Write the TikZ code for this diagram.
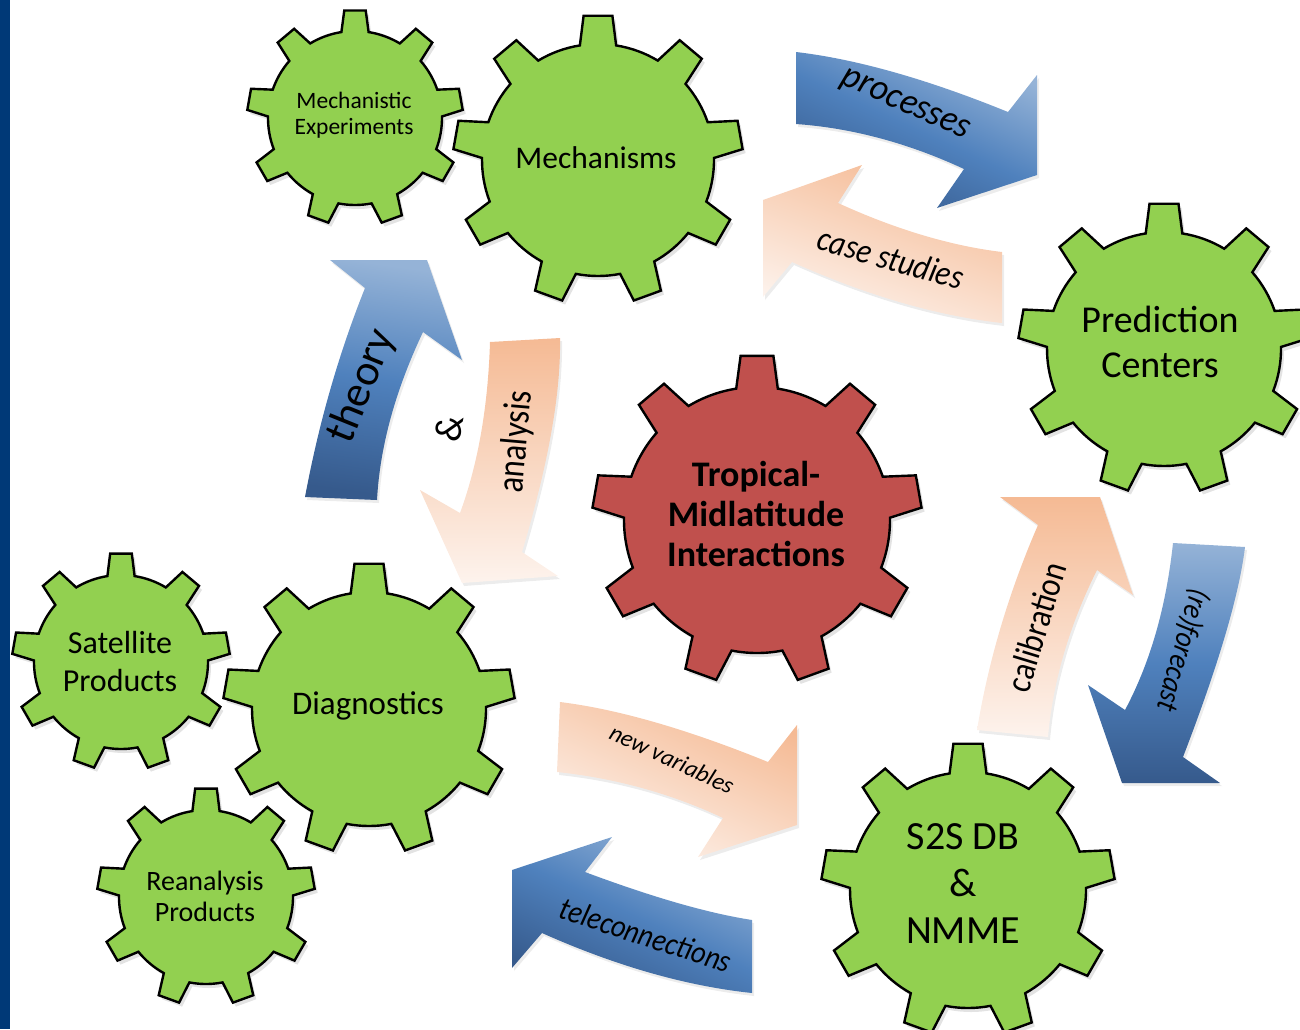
\documentclass[tikz,border=0pt]{standalone}
\usepackage{fontspec}
\setmainfont{Carlito}
\usetikzlibrary{shadows}

\definecolor{gearGreen}{RGB}{146,208,80}
\definecolor{gearRed}{RGB}{192,80,77}
\definecolor{blueLight}{RGB}{149,179,215}
\definecolor{blueMid}{RGB}{79,129,189}
\definecolor{blueDark}{RGB}{54,90,140}
\definecolor{peachDark}{RGB}{245,186,148}
\definecolor{peachLight}{RGB}{253,243,237}
\definecolor{stripBlue}{RGB}{0,57,119}

\tikzset{
  gearbase/.style={draw=black, line width=2.4pt, line join=miter,
    drop shadow={shadow xshift=3pt, shadow yshift=-4pt, opacity=0.22}},
  greengear/.style={gearbase, fill=gearGreen},
  redgear/.style={gearbase, fill=gearRed},
  arrowbase/.style={drop shadow={shadow xshift=2pt, shadow yshift=-3pt, opacity=0.15}},
  bluearrow/.style={arrowbase, top color=blueLight, bottom color=blueDark, middle color=blueMid},
  peacharrow/.style={arrowbase, top color=peachDark, bottom color=peachLight},
  gtext/.style={align=center, inner sep=0pt, text=black},
  atext/.style={inner sep=0pt, text=black}
}

% #1 style, #2 centre, #3 inner radius, #4 outer radius
\newcommand{\drawgear}[4]{%
  \begin{scope}[shift={#2}]
  \path[#1] (261:#3)
    \foreach \k in {0,...,8} {
      -- ({270+40*\k-5.7}:#4) -- ({270+40*\k+5.7}:#4) -- ({270+40*\k+9}:#3)
      arc[start angle={270+40*\k+9}, end angle={270+40*\k+31}, radius=#3]
    } -- cycle;
  \end{scope}
}

\begin{document}
\begin{tikzpicture}[x=1pt,y=-1pt]
\useasboundingbox (0,0) rectangle (1300,1029);
\fill[stripBlue] (0,0) rectangle (10,1029);

% ---------- arrows ----------
% processes
\path[bluearrow, shading angle=-25] (796,52) .. controls (856,59) and (927,79) .. (1008,112) -- (1037,75) -- (1037,175) -- (937,208) -- (964,169) .. controls (908,143) and (852,128) .. (796,124) -- cycle;
% case studies
\path[peacharrow, shading angle=-20] (1002,252) .. controls (952,246) and (897,230) .. (838,203) -- (862,165) -- (763,200) -- (763,297) -- (792,262) .. controls (868,296) and (938,316) .. (1002,323) -- cycle;
% theory
\path[bluearrow, shading angle=-8] (305,497) .. controls (319,422) and (339,353) .. (365,288) -- (330,260) -- (427,260) -- (462,360) -- (423,332) .. controls (396,389) and (380,445) .. (377,500) -- cycle;
% analysis
\path[peacharrow] (490,342) .. controls (488,407) and (478,464) .. (460,513) -- (420,490) -- (462,583) -- (558,576) -- (522,552) .. controls (548,465) and (561,394) .. (560,338) -- cycle;
% calibration
\path[peacharrow] (977,730) .. controls (988,663) and (1008,594) .. (1038,525) -- (1000,497) -- (1100,497) -- (1133,595) -- (1097,570) .. controls (1070,624) and (1053,680) .. (1048,737) -- cycle;
% (re)forecast
\path[bluearrow] (1173,543) .. controls (1166,608) and (1150,663) .. (1125,710) -- (1088,685) -- (1122,783) -- (1220,783) -- (1183,757) .. controls (1218,666) and (1239,596) .. (1245,547) -- cycle;
% new variables
\path[peacharrow, shading angle=-25] (560,702) .. controls (617,709) and (687,729) .. (768,762) -- (797,725) -- (797,825) -- (698,857) -- (723,818) .. controls (670,793) and (614,778) .. (557,772) -- cycle;
% teleconnections
\path[bluearrow, shading angle=-25] (752,920) .. controls (707,913) and (652,897) .. (585,872) -- (612,837) -- (512,870) -- (512,968) -- (542,933) .. controls (616,966) and (686,986) .. (752,993) -- cycle;

% ---------- gears ----------
\drawgear{greengear}{(355,118)}{87}{108}
\drawgear{greengear}{(598,160)}{116}{145}
\drawgear{greengear}{(1164,349)}{117}{146}
\drawgear{redgear}{(757,520)}{133}{165}
\drawgear{greengear}{(369,709)}{117}{146}
\drawgear{greengear}{(121,662)}{87}{109}
\drawgear{greengear}{(206,897)}{87}{109}
\drawgear{greengear}{(968,890)}{118}{147}

% ---------- gear labels ----------
\node[gtext, font=\fontsize{23.5}{26}\selectfont] (mechexp) at (354,115) {Mechanistic\\Experiments};
\node[gtext, font=\fontsize{31.5}{36}\selectfont] (mech) at (596,158) {Mechanisms};
\node[gtext, font=\fontsize{38}{45}\selectfont] (pred) at (1160,342) {Prediction\\Centers};
\node[gtext, font=\fontsize{36}{40}\selectfont\bfseries] (tmi) at (756,514) {Tropical-\\Midlatitude\\Interactions};
\node[gtext, font=\fontsize{33}{38}\selectfont] (diag) at (368,706) {Diagnostics};
\node[gtext, font=\fontsize{32}{38}\selectfont] (sat) at (120,661) {Satellite\\Products};
\node[gtext, font=\fontsize{28}{31}\selectfont] (rean) at (205,896) {Reanalysis\\Products};
\node[gtext, font=\fontsize{40}{47}\selectfont] (s2s) at (963,884) {S2S DB\\\&\\NMME};

% ---------- arrow labels ----------
\node[atext, font=\fontsize{37}{40}\selectfont\itshape, rotate=-24, xscale=0.95] (lproc) at (905,106) {processes};
\node[atext, font=\fontsize{35}{40}\selectfont\itshape, rotate=-16, xscale=0.88] (lcase) at (891,258) {case studies};
\node[atext, font=\fontsize{44}{48}\selectfont, rotate=68] (ltheory) at (362,386) {theory};
\node[atext, font=\fontsize{38}{40}\selectfont, rotate=80] (land) at (449,428) {\&};
\node[atext, font=\fontsize{38}{44}\selectfont, rotate=85, xscale=0.85] (lanal) at (517,442) {analysis};
\node[atext, font=\fontsize{36}{42}\selectfont, rotate=73, xscale=0.86] (lcal) at (1036,627) {calibration};
\node[atext, font=\fontsize{31}{36}\selectfont\itshape, rotate=-106, xscale=0.86] (lfore) at (1183,650) {(re)forecast};
\node[atext, font=\fontsize{24}{30}\selectfont\itshape, rotate=-25] (lnew) at (672,759) {new variables};
\node[atext, font=\fontsize{32}{38}\selectfont\itshape, rotate=-18, xscale=0.88] (ltele) at (646,935) {teleconnections};
\end{tikzpicture}
\end{document}
